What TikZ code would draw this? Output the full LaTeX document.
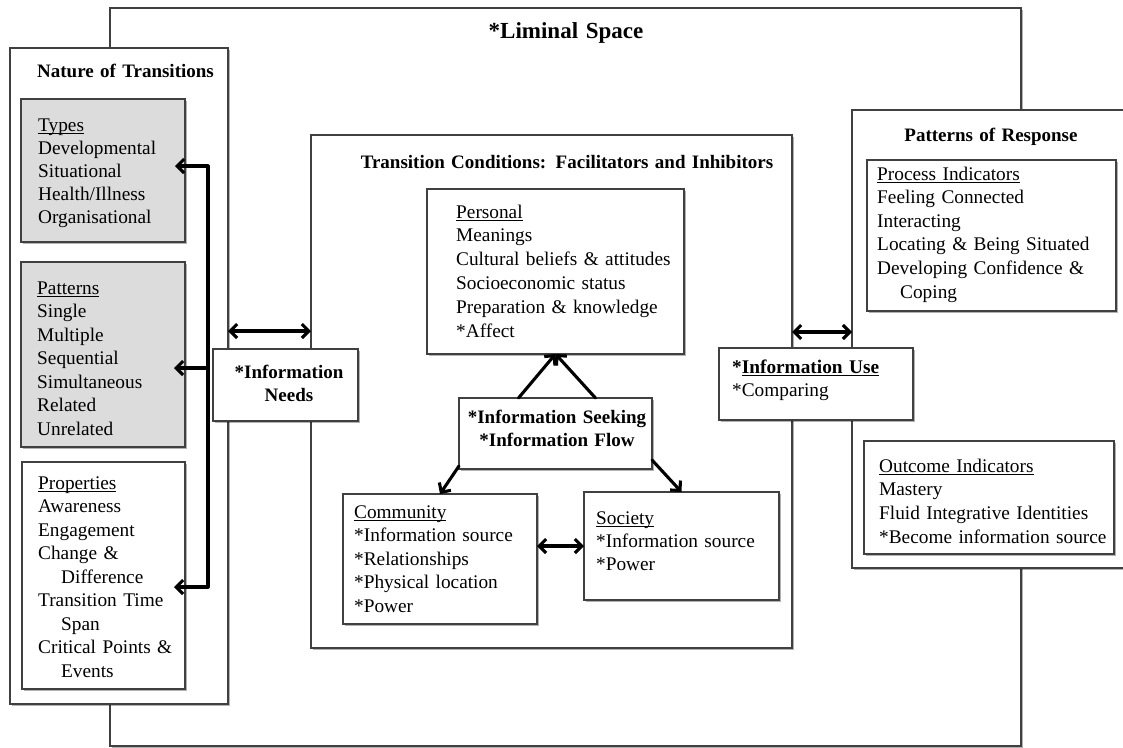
\documentclass[tikz,border=0pt]{standalone}
\usepackage{fontspec}
\setmainfont{Liberation Serif}
\usetikzlibrary{arrows.meta,shadows}
\definecolor{bordc}{HTML}{404040}
\definecolor{boxgray}{HTML}{DCDCDC}
\newcommand{\myul}[1]{\setbox0\hbox{#1}\rlap{\rule[-2.4pt]{\wd0}{0.9pt}}\box0}
\begin{document}
\begin{tikzpicture}[x=1pt,y=-1pt,
  bx/.style={draw=bordc, line width=1.3pt, fill=white, rectangle, inner sep=0pt, outer sep=0pt,
    drop shadow={shadow xshift=1.6pt, shadow yshift=-1.6pt, opacity=0.3, fill=black}},
  gbx/.style={bx, fill=boxgray},
  txt/.style={inner sep=0pt, anchor=base west, align=left, text width=#1, font=\fontsize{19.3}{23.5}\selectfont},
  txt/.default=250pt,
  ctxt/.style={inner sep=0pt, anchor=base, align=center, text width=#1, font=\fontsize{19}{23.3}\selectfont\bfseries},
  ctxt/.default=500pt,
  arr/.style={line width=3.1pt, line cap=round, line join=round, -{Straight Barb[length=7pt,width=14pt]}},
  darr/.style={arr, {Straight Barb[length=7pt,width=14pt]}-{Straight Barb[length=7pt,width=14pt]}}
]
\useasboundingbox (0,0) rectangle (1123,747);
\fill[white] (0,0) rectangle (1123,747);
\clip (0,0) rectangle (1123,747);

% Liminal space
\node[bx, minimum width=911pt, minimum height=738pt] (liminal) at (565.5,377) {};
\node[ctxt, font=\fontsize{23}{26}\selectfont\bfseries] (liminalT) at (566,38) {*Liminal Space};

% Nature of transitions
\node[bx, minimum width=218pt, minimum height=656pt] (nature) at (119,376) {};
\node[ctxt] (natureT) at (125.5,77) {Nature of Transitions};
\node[gbx, minimum width=164pt, minimum height=143pt] (types) at (103,170.5) {};
\node[txt, font=\fontsize{19.3}{23}\selectfont] (typesT) at (38,131) {\myul{Types}\\Developmental\\Situational\\Health/Illness\\Organisational};
\node[gbx, minimum width=164pt, minimum height=185pt] (patterns) at (103,354.5) {};
\node[txt] (patT) at (37,294) {\myul{Patterns}\\Single\\Multiple\\Sequential\\Simultaneous\\Related\\Unrelated};
\node[bx, minimum width=163pt, minimum height=227pt] (props) at (103.5,575.5) {};
\node[txt] (propT) at (38,489) {\myul{Properties}\\Awareness\\Engagement\\Change \&\\\hspace*{23pt}Difference\\Transition Time\\\hspace*{23pt}Span\\Critical Points \&\\\hspace*{23pt}Events};

% Transition conditions
\node[bx, minimum width=481pt, minimum height=513pt] (tc) at (551.5,391.5) {};
\node[ctxt] (tcT) at (567,168) {Transition Conditions: Facilitators and Inhibitors};
\node[bx, minimum width=257pt, minimum height=165pt] (personal) at (555.5,271.5) {};
\node[txt, font=\fontsize{19.3}{23.8}\selectfont] (personalT) at (456,218) {\myul{Personal}\\Meanings\\Cultural beliefs \& attitudes\\Socioeconomic status\\Preparation \& knowledge\\{}*Affect};
\node[bx, minimum width=193pt, minimum height=71pt] (seek) at (555.5,433.5) {};
\node[ctxt] (seekT) at (557,423) {*Information Seeking\\{}*Information Flow};
\node[bx, minimum width=194pt, minimum height=130pt] (community) at (440,559) {};
\node[txt] (commT) at (354,518) {\myul{Community}\\{}*Information source\\{}*Relationships\\{}*Physical location\\{}*Power};
\node[bx, minimum width=195pt, minimum height=108pt] (society) at (681.5,546) {};
\node[txt, font=\fontsize{19.3}{23}\selectfont] (socT) at (596,524) {\myul{Society}\\{}*Information source\\{}*Power};

% Patterns of response
\node[bx, minimum width=288pt, minimum height=458pt] (por) at (996,339) {};
\node[ctxt] (porT) at (991,141) {Patterns of Response};
\node[bx, minimum width=249pt, minimum height=151pt] (process) at (991.5,235.5) {};
\node[txt, font=\fontsize{19.3}{23.6}\selectfont] (procT) at (877,180) {\myul{Process Indicators}\\Feeling Connected\\Interacting\\Locating \& Being Situated\\Developing Confidence \&\\\hspace*{23pt}Coping};
\node[bx, minimum width=250pt, minimum height=113pt] (outcome) at (989,497.5) {};
\node[txt, font=\fontsize{19.3}{23.7}\selectfont] (outT) at (879,472) {\myul{Outcome Indicators}\\Mastery\\Fluid Integrative Identities\\{}*Become information source};

% connectors
\coordinate (lvlL) at (0,331);
\coordinate (lvlR) at (0,332);
\coordinate (brTop) at (208,166);
\coordinate (brMid) at (208,368);
\coordinate (brBot) at (208,587);
\coordinate (tipTypes) at (175,166);
\coordinate (tipPat) at (174,368);
\coordinate (tipProps) at (174,587);
\draw[darr] (tipTypes) -- (brTop) -- (brBot) -- (tipProps);
\draw[arr] (brMid) -- (tipPat);
\draw[darr] (nature.east |- lvlL) -- (tc.west |- lvlL);
\draw[darr] (tc.east |- lvlR) -- (por.west |- lvlR);
\draw[darr] (community.east |- society.west) -- (society.west);
\draw[arr] ([xshift=-37pt]seek.north) -- (personal.south);
\draw[arr] ([xshift=40pt]seek.north) -- (personal.south);
\draw[arr] ([yshift=3pt]seek.south west) -- (community.north);
\draw[arr] ([yshift=9pt]seek.south east) -- (society.north);

% boxes on top
\node[bx, minimum width=145pt, minimum height=72pt] (needs) at (285.5,385) {};
\node[ctxt] (needsT) at (289,378) {*Information\\Needs};
\node[bx, minimum width=194pt, minimum height=72pt] (use) at (816,384) {};
\node[txt] (useT) at (732,373) {\textbf{*\myul{Information Use}}\\{}*Comparing};
\end{tikzpicture}
\end{document}
